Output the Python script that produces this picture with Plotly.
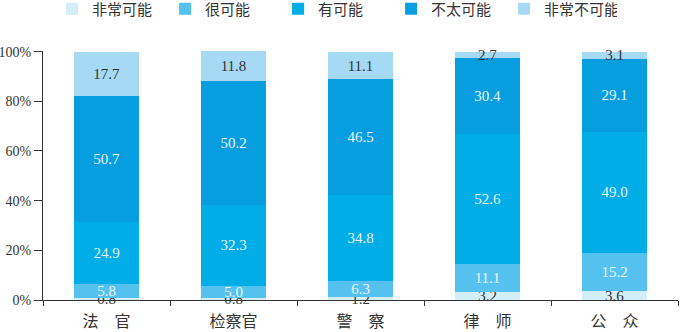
import plotly.graph_objects as go

categories = ["法\u3000官", "检察官", "警\u3000察", "律\u3000师", "公\u3000众"]
series_names = ["非常可能", "很可能", "有可能", "不太可能", "非常不可能"]
very_likely = [0.8, 0.8, 1.2, 3.2, 3.6]
likely = [5.8, 5.0, 6.3, 11.1, 15.2]
possible = [24.9, 32.3, 34.8, 52.6, 49.0]
unlikely = [50.7, 50.2, 46.5, 30.4, 29.1]
very_unlikely = [17.7, 11.8, 11.1, 2.7, 3.1]
y_ticks = [0, 20, 40, 60, 80, 100]

series_values = [very_likely, likely, possible, unlikely, very_unlikely]
colors = ["#d3edf9", "#55c1ee", "#00ade6", "#079ee0", "#a6daf4"]
text_colors = ["#333333", "#eaf6fc", "#eaf6fc", "#eaf6fc", "#333333"]

FONT = "Liberation Serif, Noto Sans CJK SC, serif"

fig = go.Figure()
for name, vals, col, tcol in zip(series_names, series_values, colors, text_colors):
    fig.add_trace(go.Bar(
        x=categories, y=vals, name=name,
        marker=dict(color=col, line=dict(width=0)),
        text=[f"{v:.1f}" for v in vals],
        textposition="inside",
        insidetextanchor="middle",
        constraintext="none",
        cliponaxis=False,
        textfont=dict(family=FONT, size=15, color=tcol),
        insidetextfont=dict(family=FONT, size=15, color=tcol),
        hoverinfo="skip",
    ))

fig.update_layout(
    barmode="stack",
    bargap=0.495,
    width=680, height=332,
    margin=dict(l=43, r=2, t=51, b=32, autoexpand=False),
    paper_bgcolor="white",
    plot_bgcolor="white",
    font=dict(family=FONT, color="#333333"),
    showlegend=True,
    legend=dict(
        orientation="h",
        x=0.0143, xanchor="left",
        yref="container",
        y=0.973, yanchor="middle",
        entrywidth=68,
        font=dict(family=FONT, size=15, color="#333333"),
        traceorder="normal",
        itemclick=False,
        bgcolor="rgba(0,0,0,0)",
    ),
    uniformtext=dict(mode=False),
)
fig.update_xaxes(
    showline=True, linecolor="#333333", linewidth=1,
    ticks="outside", tickson="boundaries", ticklen=5, tickcolor="#333333",
    tickfont=dict(family=FONT, size=16, color="#333333"),
    ticklabelstandoff=7,
    showgrid=False,
)
fig.update_yaxes(
    range=[0, 100.25],
    tickvals=y_ticks,
    ticktext=[f"{t}%" for t in y_ticks],
    showline=True, linecolor="#333333", linewidth=1,
    ticks="outside", ticklen=8, tickcolor="#333333",
    tickfont=dict(family=FONT, size=14, color="#333333"),
    showgrid=False, zeroline=False,
)

fig.write_html("out.html")
